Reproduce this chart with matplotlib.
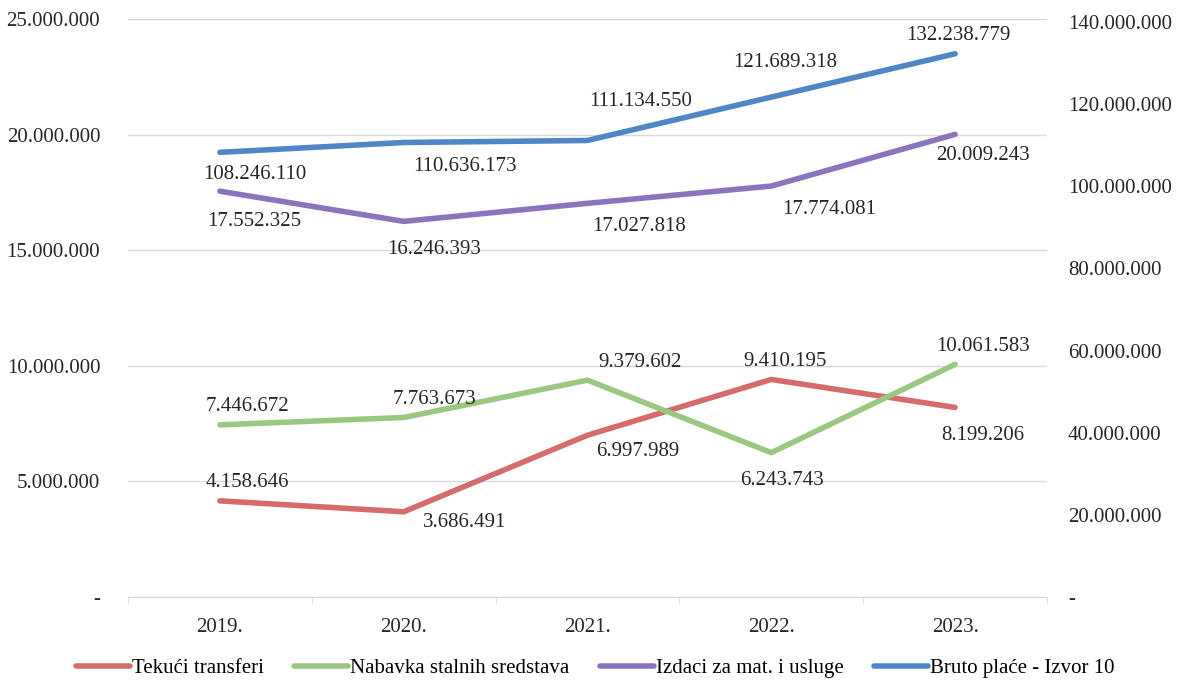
import matplotlib
matplotlib.use("Agg")
import matplotlib.pyplot as plt
from matplotlib.ticker import FuncFormatter, MultipleLocator

years = ["2019.", "2020.", "2021.", "2022.", "2023."]
tekuci = [4158646, 3686491, 6997989, 9410195, 8199206]
nabavka = [7446672, 7763673, 9379602, 6243743, 10061583]
izdaci = [17552325, 16246393, 17027818, 17774081, 20009243]
bruto = [108246110, 110636173, 111134550, 121689318, 132238779]

names = ["Tekući transferi", "Nabavka stalnih sredstava",
         "Izdaci za mat. i usluge", "Bruto plaće - Izvor 10"]
colors = ["#D56B6C", "#9CC782", "#8A74BD", "#4F86C5"]

plt.rcParams['font.family'] = ['Liberation Serif', 'DejaVu Serif']
FS = 15

fig = plt.figure(figsize=(11.9, 6.84), dpi=100)
ax = fig.add_axes([128/1190, 1-597/684, (1047-128)/1190, (597-19)/684])
ax2 = ax.twinx()

x = list(range(len(years)))
lw = 4.0
l1, = ax.plot(x, tekuci, color=colors[0], lw=lw, solid_capstyle='round', zorder=3)
l2, = ax.plot(x, nabavka, color=colors[1], lw=lw, solid_capstyle='round', zorder=3)
l3, = ax.plot(x, izdaci, color=colors[2], lw=lw, solid_capstyle='round', zorder=3)
l4, = ax2.plot(x, bruto, color=colors[3], lw=lw, solid_capstyle='round', zorder=3)

def fmt(v):
    return f"{int(v):,}".replace(",", ".")

def tickfmt(v, pos):
    return "-" if v == 0 else fmt(v)

ax.set_xlim(-0.5, 4.5)
ax.set_ylim(0, 25e6)
ax2.set_ylim(0, 140.7e6)
ax.yaxis.set_major_locator(MultipleLocator(5e6))
ax2.yaxis.set_major_locator(MultipleLocator(20e6))
ax.yaxis.set_major_formatter(FuncFormatter(tickfmt))
ax2.yaxis.set_major_formatter(FuncFormatter(tickfmt))
ax.set_xticks(x)
ax.set_xticklabels(years)
ax.set_xticks([i - 0.5 for i in range(6)], minor=True)

for a in (ax, ax2):
    for s in a.spines.values():
        s.set_visible(False)
ax.spines['bottom'].set_visible(True)
ax.spines['bottom'].set_color('#D9D9D9')
ax.grid(axis='y', color='#D9D9D9', lw=1)
ax.set_axisbelow(True)
ax.tick_params(axis='y', length=0, labelsize=FS, pad=20, colors='#262626')
ax2.tick_params(axis='y', length=0, labelsize=FS, pad=15, colors='#262626')
ax.tick_params(axis='x', which='major', length=0, labelsize=FS, pad=15, colors='#262626')
ax.tick_params(axis='x', which='minor', length=5, color='#D9D9D9')

# data labels (offsets in points)
off_t = [(20, 13), (44, -8), (36, -12), (10, 13), (20, -20)]
off_n = [(20, 13), (22, 13), (38, 13), (8, -20), (20, 13)]
off_i = [(25, -22), (22, -20), (37, -17), (42, -17), (20, -15)]
off_b = [(25, -16), (44, -17), (38, 28), (10, 25), (2, 13)]

for vals, offs, a in ((tekuci, off_t, ax), (nabavka, off_n, ax),
                      (izdaci, off_i, ax), (bruto, off_b, ax2)):
    for i, v in enumerate(vals):
        a.annotate(fmt(v), (i, v), xytext=offs[i], textcoords='offset points',
                   ha='center', va='center', fontsize=FS, color='#262626', zorder=5)

fig.legend([l1, l2, l3, l4], names, loc='center', bbox_to_anchor=(595/1190, 1-668/684),
           ncol=4, frameon=False, fontsize=FS, handlelength=2.6, handletextpad=0.1,
           columnspacing=1.45)

fig.savefig("out.png", dpi=100)
